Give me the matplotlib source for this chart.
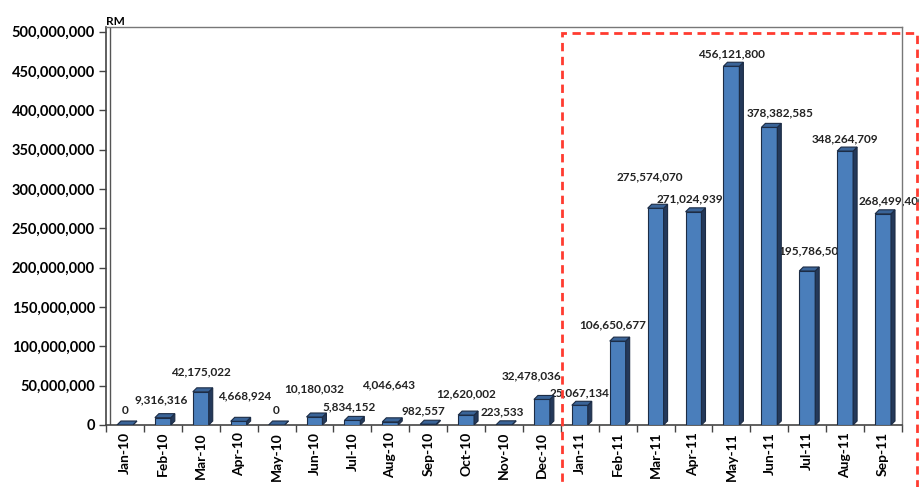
import matplotlib.pyplot as plt
from matplotlib.patches import Polygon, Rectangle
from matplotlib.ticker import FuncFormatter

plt.rcParams['font.family'] = ['Lato', 'DejaVu Sans']

# ========== 数据 ==========
months = ['Jan-10', 'Feb-10', 'Mar-10', 'Apr-10', 'May-10', 'Jun-10', 'Jul-10',
          'Aug-10', 'Sep-10', 'Oct-10', 'Nov-10', 'Dec-10', 'Jan-11', 'Feb-11',
          'Mar-11', 'Apr-11', 'May-11', 'Jun-11', 'Jul-11', 'Aug-11', 'Sep-11']
values = [0, 9316316, 42175022, 4668924, 0, 10180032, 5834152,
          4046643, 982557, 12620002, 223533, 32478036, 25067134, 106650677,
          275574070, 271024939, 456121800, 378382585, 195786500, 348264709, 268499400]

# 标签相对柱顶的偏移（像素）
label_dx = [0, -2, 0, 6, 0, 0, -3, -2, -5, 0, -2, -10, 0, -5, -6, -4, 0, 11, 4, 0, 9]
label_dy = [15, 18, 20, 25, 15, 28, 14, 37, 13, 21, 13, 24, 12, 16, 31, 13, 12, 15, 20, 12, 13]

DPI = 100
fig = plt.figure(figsize=(9.2, 4.87), dpi=DPI)
ax = fig.add_axes([106 / 920, 62 / 487, 796 / 920, 398 / 487])

n = len(months)
x = list(range(n))
ymax = 506e6
ax.set_xlim(-0.5, n - 0.5)
ax.set_ylim(0, ymax)

front = '#4a7ebb'
side = '#24395a'
top = '#3a6498'
edge = '#1c2c45'
bw = 0.42
# 3D 深度（数据单位）
px_x = n / 796
px_y = ymax / 398
ddx = 4 * px_x
ddy = 4 * px_y

ax.bar(x, values, width=bw, color=front, edgecolor=edge, linewidth=0.8, zorder=3)
for xi, v in zip(x, values):
    x0, x1 = xi - bw / 2, xi + bw / 2
    ax.add_patch(Polygon([(x1, 0), (x1 + ddx, ddy), (x1 + ddx, v + ddy), (x1, v)],
                         closed=True, facecolor=side, edgecolor=edge, linewidth=0.8, zorder=3))
    ax.add_patch(Polygon([(x0, v), (x0 + ddx, v + ddy), (x1 + ddx, v + ddy), (x1, v)],
                         closed=True, facecolor=top, edgecolor=edge, linewidth=0.8, zorder=3))

# 数据标签
for xi, v, dx, dy in zip(x, values, label_dx, label_dy):
    ax.annotate(f'{v:,}', (xi, v), xytext=(dx * 72 / DPI, dy * 72 / DPI),
                textcoords='offset points', ha='center', va='center',
                fontsize=8.5, fontweight='bold', color='#222222', zorder=2)

# 坐标轴
ax.yaxis.set_major_formatter(FuncFormatter(lambda v, p: f'{int(v):,}'))
ax.set_yticks(range(0, 500000001, 50000000))
ax.set_xticks(x)
ax.set_xticklabels(months, rotation=90, fontsize=10, fontweight='bold')
ax.set_xticks([i + 0.5 for i in range(-1, n)], minor=True)
ax.tick_params(axis='x', which='major', length=0, pad=5)
ax.tick_params(axis='x', which='minor', length=5, width=1, color='#444444')
ax.tick_params(axis='y', length=5, width=1, color='#444444', labelsize=10.5, pad=3)
for lab in ax.get_yticklabels():
    lab.set_fontweight('bold')

for s in ['left', 'bottom']:
    ax.spines[s].set_color('#444444')
    ax.spines[s].set_linewidth(1.2)
for s in ['top', 'right']:
    ax.spines[s].set_color('#777777')
    ax.spines[s].set_linewidth(1.0)
# 左侧墙面双线
ax.axvline(-0.5 + 4 * px_x, color='#555555', lw=1.0, zorder=1)

ax.text(-0.5, ymax, 'RM', ha='left', va='bottom', fontsize=8.5, fontweight='bold',
        transform=ax.transData, clip_on=False)

# 红色虚线框
fig.patches.append(Rectangle((562 / 920, -0.02), 355 / 920, (487 - 33) / 487 + 0.02,
                             transform=fig.transFigure, fill=False, edgecolor='#ff3b30',
                             linestyle=(0, (3, 2)), linewidth=2, zorder=10))

plt.savefig('out.png', dpi=DPI)
